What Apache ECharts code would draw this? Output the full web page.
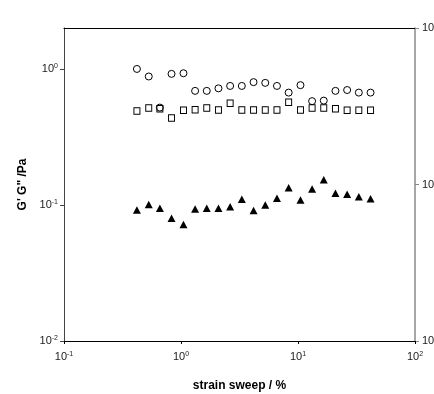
<!DOCTYPE html>
<html>
<head>
<meta charset="utf-8">
<script src="https://cdn.jsdelivr.net/npm/echarts@6/dist/echarts.min.js"></script>
<style>
  html, body { margin: 0; padding: 0; background: #fff; }
  #chart { width: 434px; height: 394px; }
</style>
</head>
<body>
<div id="chart"></div>
<script>
// Strain values (%) of the amplitude sweep
const strain = [0.42, 0.53, 0.66, 0.83, 1.05, 1.32, 1.66, 2.09, 2.63, 3.31, 4.17,
                5.25, 6.61, 8.32, 10.5, 13.2, 16.6, 20.9, 26.3, 33.1, 41.7];

// Moduli (Pa), hollow circles
const circleVals = [1.00, 0.88, 0.52, 0.92, 0.93, 0.69, 0.69, 0.72, 0.75, 0.75, 0.80,
                    0.79, 0.75, 0.67, 0.76, 0.58, 0.585, 0.69, 0.70, 0.67, 0.67];
// Moduli (Pa), hollow squares
const squareVals = [0.49, 0.517, 0.51, 0.436, 0.497, 0.502, 0.517, 0.50, 0.56, 0.50, 0.50,
                    0.50, 0.50, 0.57, 0.50, 0.517, 0.517, 0.51, 0.497, 0.497, 0.497];
// Filled triangles
const triangleVals = [0.092, 0.101, 0.0946, 0.080, 0.072, 0.0935, 0.0946, 0.0946, 0.097, 0.110, 0.091,
                      0.100, 0.112, 0.134, 0.109, 0.131, 0.153, 0.122, 0.120, 0.115, 0.111];

// Tick positions
const xTicks = [0.1, 1, 10, 100];
const yTicks = [0.01, 0.1, 1];
const y2Ticks = [10, 100, 1000];

const pairs = vals => strain.map((x, i) => [x, vals[i]]);

function powLabel(v) {
  const e = Math.round(Math.log10(v));
  return '10{sup|' + e + '}';
}

const labelRich = {
  sup: { fontSize: 7, verticalAlign: 'top', padding: [0, 0, 5, 0], fontFamily: 'Liberation Sans', color: '#222' }
};

const chart = echarts.init(document.getElementById('chart'), null, { renderer: 'canvas' });

chart.setOption({
  animation: false,
  backgroundColor: '#fff',
  grid: { left: 64, right: 19, top: 28, bottom: 53, containLabel: false, outerBoundsMode: 'none' },
  xAxis: [
    {
      type: 'log', logBase: 10, min: 0.1, max: 100, position: 'bottom',
      name: 'strain sweep / %', nameLocation: 'middle', nameGap: 39,
      nameTextStyle: { fontFamily: 'Liberation Sans', fontWeight: 'bold', fontSize: 12, color: '#000' },
      axisLine: { lineStyle: { color: '#000', width: 1 } },
      axisTick: { inside: false, length: 3, lineStyle: { color: '#000' }, customValues: xTicks },
      axisLabel: {
        margin: 10, fontFamily: 'Liberation Sans', fontSize: 11, color: '#222',
        customValues: xTicks, formatter: powLabel, rich: labelRich
      },
      splitLine: { show: false }, minorTick: { show: false }
    },
    {
      type: 'log', logBase: 10, min: 0.1, max: 100, position: 'top',
      axisLine: { lineStyle: { color: '#000', width: 1 } },
      axisTick: { show: false }, axisLabel: { show: false }, splitLine: { show: false }
    }
  ],
  yAxis: [
    {
      type: 'log', logBase: 10, min: 0.01, max: 2, position: 'left',
      name: 'G\' G" /Pa', nameLocation: 'middle', nameGap: 31,
      nameTextStyle: { fontFamily: 'Liberation Sans', fontWeight: 'bold', fontSize: 12, color: '#000' },
      axisLine: { lineStyle: { color: '#444', width: 1 } },
      axisTick: { inside: false, length: 4, lineStyle: { color: '#444' }, customValues: yTicks },
      axisLabel: {
        margin: 6, fontFamily: 'Liberation Sans', fontSize: 11, color: '#222',
        customValues: yTicks, formatter: powLabel, rich: labelRich
      },
      splitLine: { show: false }, minorTick: { show: false }
    },
    {
      type: 'log', logBase: 10, min: 10, max: 1000, position: 'right',
      axisLine: { lineStyle: { color: '#888', width: 1.5 } },
      axisTick: { inside: false, length: 4, lineStyle: { color: '#888' }, customValues: y2Ticks },
      axisLabel: {
        margin: 7, fontFamily: 'Liberation Sans', fontSize: 11, color: '#222',
        customValues: y2Ticks, formatter: () => '10'
      },
      splitLine: { show: false }
    }
  ],
  series: [
    {
      type: 'scatter', data: pairs(squareVals), symbol: 'rect', symbolSize: [6, 6.5],
      itemStyle: { color: 'rgba(255,255,255,0)', borderColor: '#000', borderWidth: 1, opacity: 1 }
    },
    {
      type: 'scatter', data: pairs(circleVals), symbol: 'circle', symbolSize: 7,
      itemStyle: { color: 'rgba(255,255,255,0)', borderColor: '#000', borderWidth: 1, opacity: 1 }
    },
    {
      type: 'scatter', data: pairs(triangleVals), symbol: 'triangle', symbolSize: [8, 7.5],
      itemStyle: { color: '#000', borderWidth: 0, opacity: 1 }
    }
  ]
});
</script>
</body>
</html>
